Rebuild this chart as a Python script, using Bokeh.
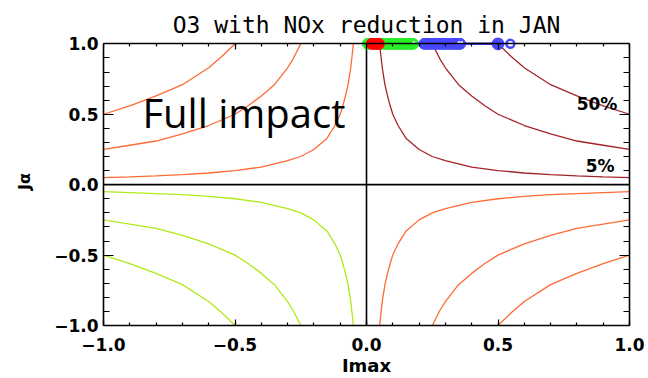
from bokeh.plotting import figure
from bokeh.models import Range1d, LinearAxis, Label, FixedTicker
from bokeh.embed import file_html
from bokeh.resources import INLINE

# Contour lines read in the first quadrant (|x|, |y|) for the three levels
c05_x = [0.05, 0.055, 0.06, 0.07, 0.08, 0.09, 0.10, 0.12, 0.15, 0.20, 0.25, 0.30, 0.40, 0.50, 0.60, 0.70, 0.80, 0.90, 1.00]
c05_y = [1.00, 0.91, 0.83, 0.71, 0.63, 0.56, 0.50, 0.42, 0.33, 0.25, 0.20, 0.17, 0.125, 0.10, 0.083, 0.071, 0.063, 0.056, 0.05]
c25_x = [0.25, 0.28, 0.30, 0.35, 0.40, 0.45, 0.50, 0.60, 0.70, 0.80, 0.90, 1.00]
c25_y = [1.00, 0.89, 0.83, 0.71, 0.63, 0.56, 0.50, 0.42, 0.36, 0.31, 0.28, 0.25]
c50_x = [0.50, 0.55, 0.60, 0.70, 0.80, 0.90, 1.00]
c50_y = [1.00, 0.91, 0.83, 0.71, 0.63, 0.56, 0.50]

# quadrant sign (sx, sy) and colour
quadrants = [(1, 1, "#a32428"), (-1, 1, "#ff6a35"), (1, -1, "#ff6a35"), (-1, -1, "#aeea18")]

# points along the top edge (y = 1)
red_x = [0.02, 0.03, 0.04, 0.047]
green_x = [0.005, 0.06, 0.07, 0.08, 0.09, 0.10, 0.11, 0.12, 0.13, 0.14, 0.15, 0.16, 0.17, 0.177]
blue_x = [0.22, 0.23, 0.24, 0.25, 0.26, 0.27, 0.28, 0.29, 0.30, 0.31, 0.32, 0.33, 0.34, 0.35, 0.356]
blue_big_x = [0.50]
blue_open_x = [0.547]
blue_dot_x = [0.18, 0.352, 0.362]
blue_line_x = [0.36, 0.49]
top_y = 1.0

xticks = [-1.0, -0.5, 0.0, 0.5, 1.0]
yticks = [-1.0, -0.5, 0.0, 0.5, 1.0]
minor = [round(-1 + 0.1 * i, 2) for i in range(21)]

FONT = "DejaVu Sans"

p = figure(width=648, height=378, x_range=Range1d(-1, 1), y_range=Range1d(-1, 1.045),
           output_backend="svg", toolbar_location=None,
           min_border_left=103, min_border_right=19, min_border_top=37, min_border_bottom=53,
           x_axis_label="Imax", y_axis_label="Jα", title="O3 with NOx reduction in JAN")
p.title.align = "center"
p.title.text_font = "DejaVu Sans Mono"
p.title.text_font_size = "23px"
p.title.text_font_style = "normal"
p.title.text_color = "black"
p.title.standoff = 0

p.grid.visible = False
p.outline_line_color = None
p.background_fill_color = "white"
p.border_fill_color = "white"

top_axis = LinearAxis(fixed_location=1.0)
right_axis = LinearAxis()
p.add_layout(top_axis, "above")
p.add_layout(right_axis, "right")

for ax in p.axis:
    ax.axis_line_color = "black"
    ax.axis_line_width = 1.6
    ax.major_tick_out = 0
    ax.minor_tick_out = 0
    ax.major_tick_line_color = "black"
    ax.minor_tick_line_color = "black"
    ax.major_tick_line_width = 1.2
    ax.minor_tick_line_width = 1.2
    ax.major_label_text_font = FONT
    ax.major_label_text_font_style = "bold"
    ax.major_label_text_font_size = "17px"
    ax.major_label_text_color = "black"
    ax.axis_label_text_font = FONT
    ax.axis_label_text_font_style = "bold"
    ax.axis_label_text_color = "black"

for ax in p.xaxis:
    ax.ticker = FixedTicker(ticks=xticks, minor_ticks=minor)
    ax.major_tick_in = 6
    ax.minor_tick_in = 3
    ax.major_label_overrides = {v: f"{v:.1f}".replace("-", "−") for v in xticks}
for ax in p.yaxis:
    ax.ticker = FixedTicker(ticks=yticks, minor_ticks=minor)
    ax.major_tick_in = 10
    ax.minor_tick_in = 6
    ax.bounds = (yticks[0], yticks[-1])
    ax.major_label_overrides = {v: f"{v:.1f}".replace("-", "−") for v in yticks}

bottom_axis = p.below[0]
left_axis = p.left[0]
bottom_axis.major_label_standoff = 12
bottom_axis.axis_label_standoff = 1
bottom_axis.axis_label_text_font_size = "18px"
left_axis.major_label_standoff = 5
left_axis.axis_label_standoff = 17
left_axis.axis_label_text_font_size = "16px"
for ax in (top_axis, right_axis):
    ax.major_label_overrides = {v: "" for v in xticks}
    ax.major_label_text_font_size = "1px"
    ax.major_label_standoff = 0

# zero lines
p.line(xticks[0:5:4], [0, 0], line_color="black", line_width=1.6)
p.line([0, 0], yticks[0:5:4], line_color="black", line_width=1.6)

for sx, sy, col in quadrants:
    for cx, cy in [(c05_x, c05_y), (c25_x, c25_y), (c50_x, c50_y)]:
        p.line([sx * v for v in cx], [sy * v for v in cy], line_color=col, line_width=1.3)

# top-edge points
BLUE = "#4848ff"
p.line(blue_line_x, [top_y] * len(blue_line_x), line_color=BLUE, line_width=2.5)
p.scatter(green_x, [top_y] * len(green_x), size=11, color="#2aec2a")
p.scatter(blue_x, [top_y] * len(blue_x), size=11, color=BLUE)
p.scatter(red_x, [top_y] * len(red_x), size=11, color="#ff0000")
p.scatter(blue_big_x, [top_y] * len(blue_big_x), size=12, color=BLUE)
p.scatter(blue_open_x, [top_y] * len(blue_open_x), size=8, fill_color="white", line_color=BLUE, line_width=2.5)
p.scatter(blue_dot_x, [top_y + 0.01] * len(blue_dot_x), size=3, fill_color="white", line_color=None)

p.add_layout(Label(x=-0.852, y=0.512, text="Full impact", text_font="Open Sans", text_font_size="40px",
                   text_color="black", text_baseline="alphabetic"))
p.add_layout(Label(x=0.954, y=0.576, text="50%", text_font=FONT, text_font_style="bold",
                   text_font_size="17px", text_align="right", text_baseline="middle", text_color="black"))
p.add_layout(Label(x=0.943, y=0.136, text="5%", text_font=FONT, text_font_style="bold",
                   text_font_size="17px", text_align="right", text_baseline="middle", text_color="black"))

open("out.html", "w").write(file_html(p, INLINE))
